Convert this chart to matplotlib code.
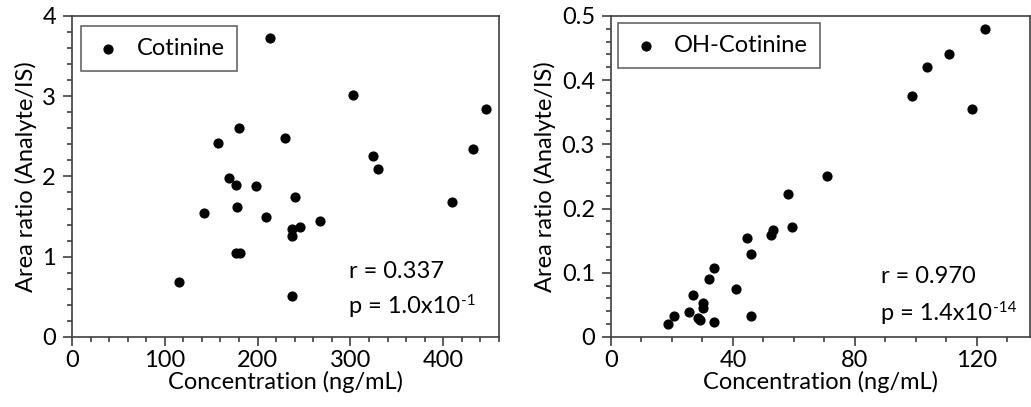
import matplotlib
matplotlib.use("Agg")
import matplotlib.pyplot as plt
from matplotlib.ticker import MultipleLocator

plt.rcParams['font.family'] = ['Lato', 'DejaVu Sans']

# Cotinine (left panel)
cot_conc = [213.7, 303.2, 445.8, 180.3, 157.0, 229.9, 324.0, 329.4, 432.1, 169.2,
            176.7, 197.9, 240.7, 409.1, 141.9, 177.8, 208.7, 267.2, 245.7, 237.4,
            237.4, 176.4, 181.0, 115.7, 237.4]
cot_ratio = [3.725, 3.01, 2.84, 2.60, 2.42, 2.475, 2.26, 2.09, 2.34, 1.98,
             1.89, 1.875, 1.74, 1.68, 1.55, 1.625, 1.49, 1.45, 1.375, 1.35,
             1.26, 1.05, 1.05, 0.68, 0.51]

# OH-Cotinine (right panel)
oh_conc = [122.8, 110.7, 103.6, 98.7, 118.4, 70.7, 57.9, 59.3, 53.2, 52.6,
           44.6, 45.8, 33.8, 32.1, 41.1, 27.0, 30.1, 30.1, 25.7, 28.4,
           29.2, 20.7, 18.6, 33.8, 45.8]
oh_ratio = [0.479, 0.441, 0.421, 0.375, 0.355, 0.250, 0.223, 0.171, 0.167, 0.159,
            0.154, 0.129, 0.108, 0.090, 0.074, 0.065, 0.053, 0.045, 0.039, 0.030,
            0.026, 0.033, 0.020, 0.023, 0.032]

# r text, p mantissa, p exponent
stats = [("r = 0.337", "p = 1.0x10", "-1"), ("r = 0.970", "p = 1.4x10", "-14")]
# text placement per panel (axes fraction): x, r baseline, p baseline
text_pos = [(0.648, 0.184, 0.075), (0.644, 0.168, 0.053)]
leg_anchor = [(0.02, 0.967), (0.017, 0.978)]

fs = 17
spine_col = "#404040"

fig = plt.figure(figsize=(10.31, 4.07), dpi=100)
ax1 = fig.add_axes([0.0698, 0.172, 0.4142, 0.789])
ax2 = fig.add_axes([0.5926, 0.172, 0.4064, 0.789])

ax1.scatter(cot_conc, cot_ratio, s=40, color="black", label="Cotinine", zorder=3)
ax2.scatter(oh_conc, oh_ratio, s=40, color="black", label="OH-Cotinine", zorder=3)

ax1.set_xlim(0, 460)
ax1.set_ylim(0, 4)
ax1.xaxis.set_major_locator(MultipleLocator(100))
ax1.xaxis.set_minor_locator(MultipleLocator(20))
ax1.yaxis.set_major_locator(MultipleLocator(1))
ax1.yaxis.set_minor_locator(MultipleLocator(0.2))

ax2.set_xlim(0, 137.4)
ax2.set_ylim(0, 0.5)
ax2.xaxis.set_major_locator(MultipleLocator(40))
ax2.xaxis.set_minor_locator(MultipleLocator(10))
ax2.yaxis.set_major_locator(MultipleLocator(0.1))
ax2.yaxis.set_minor_locator(MultipleLocator(0.02))
ax2.yaxis.set_major_formatter(lambda v, p: "0" if v == 0 else f"{v:g}")

for ax, (r_txt, p_txt, p_exp), (tx, ry, py), anc in zip([ax1, ax2], stats, text_pos, leg_anchor):
    for sp in ax.spines.values():
        sp.set_color(spine_col)
        sp.set_linewidth(1.2)
    ax.tick_params(which="major", direction="out", length=6.5, width=1.2,
                   color=spine_col, labelsize=fs, pad=5)
    ax.tick_params(which="minor", direction="out", length=3.5, width=1.2,
                   color=spine_col)
    ax.tick_params(axis="x", which="major", pad=3)
    ax.set_xlabel("Concentration (ng/mL)", fontsize=fs, labelpad=0)
    ax.set_ylabel("Area ratio (Analyte/IS)", fontsize=fs, labelpad=4)
    leg = ax.legend(loc="upper left", fontsize=fs, frameon=True, fancybox=False,
                    edgecolor=spine_col, handletextpad=0.52, borderpad=0.5,
                    handlelength=1.36, borderaxespad=0, bbox_to_anchor=anc)
    leg.get_frame().set_linewidth(1.2)
    ax.text(tx, ry, r_txt, transform=ax.transAxes, fontsize=fs, va="baseline")
    t = ax.text(tx, py, p_txt, transform=ax.transAxes, fontsize=fs, va="baseline")
    ax.annotate(p_exp, xy=(1.0, 0.0), xycoords=t, xytext=(0.5, 8.5),
                textcoords="offset points", fontsize=11, ha="left", va="baseline")

fig.savefig("out.png", dpi=100)
